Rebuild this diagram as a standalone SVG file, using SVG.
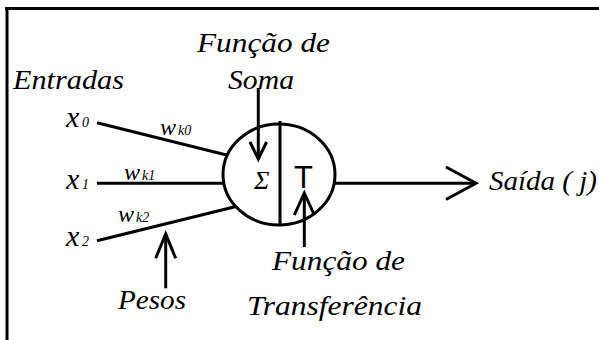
<svg xmlns="http://www.w3.org/2000/svg" width="599" height="340" viewBox="0 0 599 340">
<rect width="599" height="340" fill="#fff"/>
<g id="frame" stroke="#000" stroke-width="3" fill="none">
<path d="M5,8.5 H599 M7,8 V340"/>
</g>
<g id="neuron">
<ellipse cx="279" cy="174.5" rx="56" ry="50.5" stroke="#000" stroke-width="3" fill="none"/>
<line x1="280" y1="121" x2="280" y2="225" stroke="#000" stroke-width="3"/>
<text x="254" y="189" font-family="Times New Roman" font-style="italic" font-size="26">Σ</text>
<text x="294" y="188" font-family="Liberation Sans" font-size="31">T</text>
</g>
<g id="label-entradas"><text x="13" y="89" font-family="Times New Roman" font-style="italic" font-size="28" textLength="111" lengthAdjust="spacingAndGlyphs">Entradas</text></g>
<g id="label-soma"><text x="197" y="52" font-family="Times New Roman" font-style="italic" font-size="28" textLength="133" lengthAdjust="spacingAndGlyphs">Função de</text>
<text x="228" y="89" font-family="Times New Roman" font-style="italic" font-size="28" textLength="66" lengthAdjust="spacingAndGlyphs">Soma</text></g>
<g id="label-pesos"><text x="118" y="309" font-family="Times New Roman" font-style="italic" font-size="28" textLength="68" lengthAdjust="spacingAndGlyphs">Pesos</text></g>
<g id="label-transf"><text x="272" y="270" font-family="Times New Roman" font-style="italic" font-size="28" textLength="133" lengthAdjust="spacingAndGlyphs">Função de</text>
<text x="247" y="315" font-family="Times New Roman" font-style="italic" font-size="28" textLength="175" lengthAdjust="spacingAndGlyphs">Transferência</text></g>
<g id="label-saida"><text x="489" y="190" font-family="Times New Roman" font-style="italic" font-size="28" textLength="108" lengthAdjust="spacingAndGlyphs">Saída ( j)</text></g>
<g id="inputs">
<text x="66" y="127" font-family="Times New Roman" font-style="italic" font-size="30">x</text><text x="82" y="127" font-family="Times New Roman" font-style="italic" font-size="14">0</text>
<text x="66" y="189" font-family="Times New Roman" font-style="italic" font-size="30">x</text><text x="82" y="189" font-family="Times New Roman" font-style="italic" font-size="14">1</text>
<text x="66" y="246" font-family="Times New Roman" font-style="italic" font-size="30">x</text><text x="82" y="246" font-family="Times New Roman" font-style="italic" font-size="14">2</text>
</g>
<g id="weights">
<text x="160" y="135" font-family="Times New Roman" font-style="italic" font-size="24">w</text><text x="178" y="135" font-family="Times New Roman" font-style="italic" font-size="14">k0</text>
<text x="124" y="180" font-family="Times New Roman" font-style="italic" font-size="24">w</text><text x="142" y="180" font-family="Times New Roman" font-style="italic" font-size="14">k1</text>
<text x="118" y="222" font-family="Times New Roman" font-style="italic" font-size="24">w</text><text x="136" y="222" font-family="Times New Roman" font-style="italic" font-size="14">k2</text>
</g>
<g id="connectors" stroke="#000" stroke-width="3" fill="none">
<line x1="97" y1="122.7" x2="226.5" y2="155"/>
<line x1="97" y1="183.3" x2="223" y2="183.3"/>
<line x1="97" y1="240.7" x2="235" y2="206.7"/>
<line x1="335" y1="183.3" x2="476" y2="183.3"/>
<path d="M446,167 L476,183.3 L446,199.5"/>
<line x1="258.3" y1="88" x2="258.3" y2="159"/>
<path d="M250,142 L258.3,159 L266.6,142"/>
<line x1="304.3" y1="193" x2="304.3" y2="247"/>
<path d="M294.3,215 L304.3,193 L314.3,215"/>
<line x1="165.7" y1="234" x2="165.7" y2="288.3"/>
<path d="M155.7,258.3 L165.7,234 L175.7,258.3"/>
</g>
</svg>
